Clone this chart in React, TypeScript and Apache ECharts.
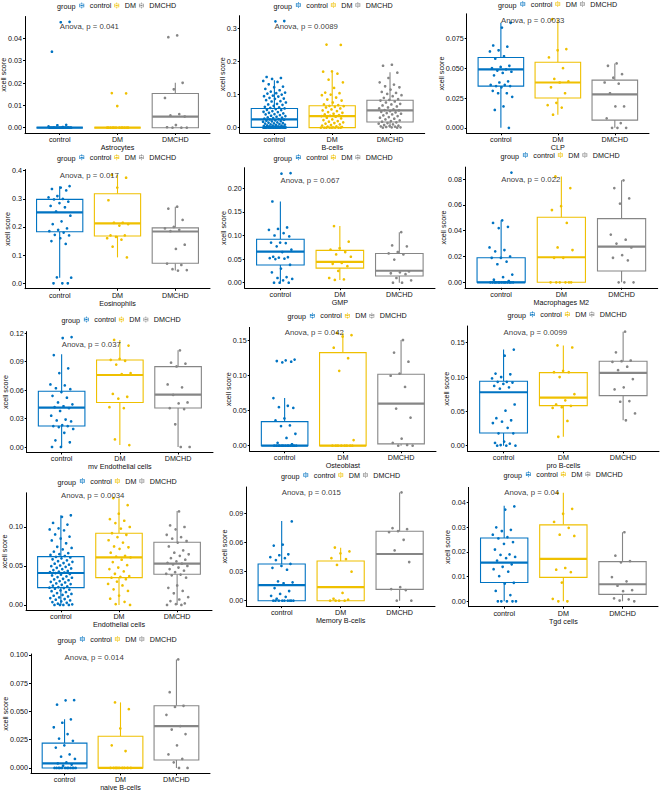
import React, { useEffect, useRef } from "react";
import * as echarts from "echarts";

const FONT = "'Liberation Sans', Arial, Helvetica, sans-serif";

const groups = ["control", "DM", "DMCHD"];
const groupColors = ["#0073C2", "#EFC000", "#868686"];

const cellTypes = [
  "Astrocytes", "B-cells", "CLP", "Eosinophils", "GMP", "Macrophages M2",
  "mv Endothelial cells", "Osteoblast", "pro B-cells", "Endothelial cells",
  "Memory B-cells", "Tgd cells", "naive B-cells",
];
const anovaP = ["0.041", "0.0089", "0.0033", "0.017", "0.067", "0.022", "0.037", "0.042", "0.0099", "0.0034", "0.015", "0.04", "0.014"];
const anovaLabelY = [0.0452, 0.306, 0.09, 0.384, 0.2175, 0.0794, 0.108, 0.162, 0.1645, 0.141, 0.1123, 0.0442, 0.098];

const yTicks = [
  [0, 0.01, 0.02, 0.03, 0.04],
  [0, 0.1, 0.2, 0.3],
  [0, 0.025, 0.05, 0.075],
  [0, 0.1, 0.2, 0.3, 0.4],
  [0, 0.05, 0.1, 0.15, 0.2],
  [0, 0.02, 0.04, 0.06, 0.08],
  [0, 0.03, 0.06, 0.09, 0.12],
  [0, 0.05, 0.1, 0.15],
  [0, 0.05, 0.1, 0.15],
  [0, 0.05, 0.1],
  [0, 0.03, 0.06, 0.09],
  [0, 0.01, 0.02, 0.03, 0.04],
  [0, 0.025, 0.05, 0.075, 0.1],
];

// ---- point values ----
const astroControl = [0.0474, 0.0472, 0.034, 0.0013, 0.0011, 0.0006, 0.0003, 0, 0, 0, 0, 0, 0, 0, 0, 0, 0, 0, 0, 0, 0, 0, 0, 0, 0, 0, 0, 0, 0, 0];
const astroDM = [0.0155, 0.0154, 0.0097, 0, 0, 0, 0, 0, 0, 0, 0, 0, 0, 0, 0];
const astroDMCHD = [0.0413, 0.0405, 0.0201, 0.0172, 0.0133, 0.0061, 0.0055, 0.005, 0.0012, 0.0002, 0, 0, 0];
const astroBox = [[0, 0, 0, 0, 0], [0, 0, 0, 0, 0], [0, 0, 0.005, 0.0153, 0.0201]];

const bcControl = [0.322, 0.321, 0.153, 0.150, 0.147, 0.141, 0.138, 0.131, 0.124, 0.122, 0.117, 0.113, 0.109, 0.106, 0.104, 0.103, 0.1, 0.097, 0.095, 0.094, 0.09, 0.088, 0.087, 0.083, 0.08, 0.079, 0.076, 0.072, 0.07, 0.069, 0.066, 0.063, 0.061, 0.06, 0.058, 0.056, 0.054, 0.053, 0.05, 0.048, 0.047, 0.045, 0.043, 0.041, 0.04, 0.038, 0.036, 0.035, 0.033, 0.031, 0.03, 0.029, 0.027, 0.026, 0.025, 0.024, 0.022, 0.021, 0.02, 0.019, 0.018, 0.016, 0.015, 0.014, 0.013, 0.012, 0.011, 0.01, 0.009, 0.008, 0.007, 0.006, 0.006, 0.005, 0.004, 0.004, 0.003, 0.003, 0.002, 0.002, 0.002, 0.001, 0.001, 0.001, 0.001, 0, 0, 0, 0, 0, 0, 0, 0, 0, 0, 0, 0, 0, 0, 0, 0, 0, 0, 0];
const bcDM = [0.251, 0.25, 0.17, 0.169, 0.163, 0.145, 0.137, 0.12, 0.106, 0.104, 0.1, 0.098, 0.091, 0.085, 0.082, 0.076, 0.07, 0.068, 0.066, 0.065, 0.063, 0.061, 0.058, 0.055, 0.052, 0.05, 0.047, 0.045, 0.042, 0.04, 0.038, 0.036, 0.035, 0.033, 0.03, 0.028, 0.025, 0.023, 0.02, 0.018, 0.016, 0.014, 0.012, 0.01, 0.008, 0.006, 0.004, 0.003, 0.002, 0.001, 0, 0, 0, 0, 0, 0, 0, 0];
const bcDMCHD = [0.19, 0.187, 0.166, 0.15, 0.137, 0.13, 0.125, 0.122, 0.115, 0.108, 0.105, 0.102, 0.098, 0.095, 0.09, 0.086, 0.084, 0.082, 0.079, 0.076, 0.072, 0.07, 0.067, 0.064, 0.061, 0.058, 0.055, 0.053, 0.052, 0.05, 0.048, 0.046, 0.044, 0.042, 0.04, 0.037, 0.035, 0.032, 0.03, 0.027, 0.025, 0.022, 0.02, 0.018, 0.016, 0.014, 0.012, 0.01, 0.008, 0.006, 0.005, 0.004, 0.003, 0.002, 0.001, 0.001, 0, 0];
const bcBox = [[0, 0.001, 0.025, 0.058, 0.143], [0, 0, 0.035, 0.066, 0.17], [0, 0.017, 0.052, 0.083, 0.167]];

const clpControl = [0.088, 0.084, 0.069, 0.068, 0.065, 0.064, 0.06, 0.058, 0.052, 0.051, 0.05, 0.049, 0.048, 0.047, 0.046, 0.044, 0.039, 0.038, 0.036, 0.036, 0.035, 0.035, 0.034, 0.031, 0.029, 0.029, 0.026, 0.018, 0.015, 0];
const clpDM = [0.091, 0.066, 0.065, 0.059, 0.05, 0.041, 0.039, 0.038, 0.034, 0.029, 0.021, 0.019, 0.017, 0.011];
const clpDMCHD = [0.054, 0.052, 0.045, 0.042, 0.038, 0.037, 0.029, 0.018, 0.018, 0.008, 0.004, 0, 0, 0];
const clpBox = [[0, 0.035, 0.049, 0.059, 0.088], [0.011, 0.025, 0.038, 0.055, 0.091], [0, 0.0065, 0.028, 0.04, 0.054]];

const eosControl = [0.345, 0.34, 0.335, 0.33, 0.31, 0.305, 0.3, 0.298, 0.29, 0.285, 0.275, 0.27, 0.255, 0.24, 0.22, 0.21, 0.195, 0.19, 0.185, 0.18, 0.172, 0.17, 0.16, 0.15, 0.14, 0.021, 0.02, 0, 0, 0];
const eosDM = [0.385, 0.375, 0.34, 0.295, 0.215, 0.215, 0.21, 0.205, 0.17, 0.17, 0.165, 0.16, 0.155, 0.13, 0.092];
const eosDMCHD = [0.272, 0.265, 0.225, 0.2, 0.195, 0.19, 0.185, 0.137, 0.122, 0.07, 0.065, 0.05, 0.047, 0.045];
const eosBox = [[0.02, 0.183, 0.252, 0.298, 0.345], [0.092, 0.168, 0.213, 0.318, 0.385], [0.045, 0.071, 0.184, 0.197, 0.272]];

const gmpControl = [0.232, 0.231, 0.172, 0.117, 0.114, 0.112, 0.105, 0.1, 0.098, 0.085, 0.085, 0.084, 0.077, 0.07, 0.065, 0.055, 0.054, 0.053, 0.052, 0.051, 0.05, 0.038, 0.03, 0.022, 0.012, 0.01, 0.008, 0.005, 0, 0, 0];
const gmpDM = [0.12, 0.087, 0.073, 0.07, 0.065, 0.06, 0.055, 0.042, 0.04, 0.035, 0.025, 0.01, 0.007, 0.006];
const gmpDMCHD = [0.107, 0.079, 0.077, 0.065, 0.062, 0.06, 0.049, 0.024, 0.022, 0.02, 0.018, 0.01, 0.005, 0, 0];
const gmpBox = [[0, 0.0375, 0.0657, 0.092, 0.172], [0.006, 0.031, 0.044, 0.0686, 0.12], [0, 0.0142, 0.0254, 0.062, 0.107]];

const m2Control = [0.085, 0.048, 0.046, 0.043, 0.042, 0.027, 0.025, 0.024, 0.02, 0.019, 0.019, 0.016, 0.014, 0.006, 0.004, 0.002, 0.001, 0, 0, 0, 0, 0, 0, 0, 0, 0, 0, 0, 0, 0];
const m2DM = [0.082, 0.073, 0.059, 0.056, 0.046, 0.027, 0.025, 0.019, 0.019, 0, 0, 0, 0, 0, 0];
const m2DMCHD = [0.079, 0.073, 0.065, 0.061, 0.037, 0.033, 0.03, 0.027, 0.021, 0.019, 0.017, 0, 0, 0];
const m2Box = [[0, 0, 0, 0.019, 0.048], [0, 0, 0.0194, 0.0504, 0.082], [0, 0.0088, 0.0276, 0.0493, 0.079]];

const mvControl = [0.116, 0.115, 0.097, 0.083, 0.078, 0.066, 0.065, 0.062, 0.061, 0.058, 0.054, 0.052, 0.047, 0.045, 0.043, 0.042, 0.041, 0.038, 0.033, 0.029, 0.028, 0.027, 0.023, 0.022, 0.022, 0.021, 0.019, 0.015, 0.007, 0.005, 0, 0];
const mvDM = [0.113, 0.107, 0.093, 0.092, 0.091, 0.087, 0.078, 0.077, 0.056, 0.053, 0.051, 0.042, 0.041, 0.008, 0.002];
const mvDMCHD = [0.102, 0.089, 0.088, 0.085, 0.066, 0.063, 0.055, 0.047, 0.046, 0.041, 0.04, 0.024, 0, 0];
const mvBox = [[0, 0.0222, 0.0415, 0.0588, 0.098], [0.002, 0.047, 0.076, 0.0919, 0.113], [0, 0.0412, 0.0552, 0.0848, 0.102]];

const ostControl = [0.123, 0.122, 0.121, 0.12, 0.119, 0.068, 0.057, 0.055, 0.054, 0.039, 0.036, 0.029, 0.028, 0.017, 0.011, 0.004, 0.002, 0, 0, 0, 0, 0, 0, 0, 0, 0, 0, 0, 0, 0];
const ostDM = [0.161, 0.158, 0.156, 0.14, 0.125, 0.107, 0.008, 0, 0, 0, 0, 0, 0, 0, 0];
const ostDMCHD = [0.151, 0.133, 0.12, 0.103, 0.1, 0.084, 0.053, 0.04, 0.01, 0.004, 0.001, 0, 0];
const ostBox = [[0, 0, 0, 0.0344, 0.068], [0, 0, 0, 0.133, 0.161], [0, 0.0025, 0.06, 0.102, 0.151]];

const proControl = [0.14, 0.131, 0.105, 0.104, 0.1, 0.098, 0.093, 0.093, 0.092, 0.09, 0.087, 0.085, 0.083, 0.06, 0.051, 0.04, 0.037, 0.035, 0.033, 0.026, 0.018, 0.018, 0.006, 0.004, 0.003, 0.001, 0, 0, 0];
const proDM = [0.146, 0.143, 0.109, 0.107, 0.107, 0.1, 0.075, 0.066, 0.06, 0.058, 0.056, 0.055, 0.036, 0.013];
const proDMCHD = [0.166, 0.136, 0.124, 0.123, 0.122, 0.115, 0.11, 0.097, 0.085, 0.082, 0.065, 0.064, 0.047, 0.037];
const proBox = [[0, 0.0185, 0.0778, 0.0939, 0.14], [0.013, 0.0583, 0.07, 0.1064, 0.146], [0.037, 0.0729, 0.106, 0.123, 0.166]];

const endoControl = [0.115, 0.113, 0.1052, 0.1031, 0.0983, 0.0968, 0.0957, 0.0904, 0.0876, 0.0852, 0.0827, 0.0791, 0.0746, 0.0731, 0.0712, 0.0683, 0.0664, 0.0651, 0.0642, 0.0628, 0.0617, 0.0609, 0.0598, 0.0586, 0.0572, 0.0561, 0.0553, 0.0538, 0.0529, 0.0517, 0.0506, 0.0498, 0.0489, 0.0477, 0.0468, 0.0459, 0.0447, 0.0436, 0.0428, 0.0421, 0.0416, 0.0408, 0.0397, 0.0389, 0.0378, 0.0366, 0.0357, 0.0349, 0.0336, 0.0328, 0.0317, 0.0306, 0.0297, 0.0288, 0.0276, 0.0268, 0.0259, 0.0247, 0.0238, 0.0229, 0.0221, 0.0217, 0.0208, 0.0196, 0.0187, 0.0176, 0.0164, 0.0152, 0.0141, 0.0129, 0.0118, 0.0109, 0.0097, 0.0088, 0.0076, 0.0067, 0.0058, 0.0046, 0.0037, 0.0028, 0.0016, 0.0008, 0, 0, 0, 0];
const endoDM = [0.137, 0.128, 0.117, 0.11, 0.108, 0.105, 0.1, 0.098, 0.092, 0.09, 0.087, 0.083, 0.08, 0.075, 0.074, 0.072, 0.067, 0.063, 0.062, 0.061, 0.058, 0.055, 0.051, 0.048, 0.046, 0.043, 0.04, 0.037, 0.036, 0.035, 0.033, 0.03, 0.027, 0.025, 0.02, 0.018, 0.012, 0.008, 0.004, 0.001, 0];
const endoDMCHD = [0.12, 0.102, 0.1, 0.097, 0.09, 0.087, 0.085, 0.082, 0.08, 0.075, 0.07, 0.067, 0.065, 0.063, 0.06, 0.058, 0.056, 0.054, 0.053, 0.052, 0.05, 0.048, 0.046, 0.044, 0.042, 0.04, 0.039, 0.038, 0.035, 0.025, 0.022, 0.018, 0.015, 0.01, 0.007, 0.005, 0.002, 0.001, 0, 0];
const endoBox = [[0, 0.0222, 0.041, 0.062, 0.115], [0, 0.035, 0.0611, 0.0919, 0.137], [0, 0.0393, 0.053, 0.0804, 0.1205]];

const memControl = [0.082, 0.058, 0.057, 0.048, 0.047, 0.045, 0.044, 0.042, 0.038, 0.036, 0.034, 0.032, 0.02, 0.019, 0.018, 0.013, 0.01, 0.007, 0.005, 0.004, 0.002, 0, 0, 0, 0, 0, 0, 0, 0, 0];
const memDM = [0.055, 0.051, 0.049, 0.044, 0.043, 0.037, 0.03, 0.008, 0.002, 0.001, 0, 0, 0, 0];
const memDMCHD = [0.112, 0.075, 0.074, 0.072, 0.071, 0.063, 0.052, 0.04, 0.014, 0.012, 0.011, 0, 0];
const memBox = [[0, 0, 0.0162, 0.038, 0.0824], [0, 0, 0.0141, 0.041, 0.0548], [0, 0.0117, 0.0483, 0.0718, 0.112]];

const tgdControl = [0.0385, 0.0372, 0.03, 0.029, 0.0285, 0.027, 0.026, 0.0255, 0.024, 0.0233, 0.021, 0.019, 0.0188, 0.018, 0.0175, 0.0165, 0.015, 0.014, 0.013, 0.012, 0.0102, 0.0075, 0.0072, 0.0042, 0.0025, 0, 0, 0, 0, 0];
const tgdDM = [0.044, 0.0375, 0.0355, 0.0322, 0.0298, 0.027, 0.0265, 0.0135, 0.0128, 0.0118, 0.0076, 0.001, 0, 0];
const tgdDMCHD = [0.028, 0.0185, 0.0163, 0.0158, 0.0098, 0.0081, 0.0063, 0.0045, 0.0041, 0.0012, 0.0008, 0.0003, 0];
const tgdBox = [[0, 0.0076, 0.0157, 0.0257, 0.0388], [0, 0.0097, 0.0172, 0.031, 0.044], [0, 0.0028, 0.0069, 0.0161, 0.028]];

const naiveControl = [0.06, 0.0598, 0.056, 0.043, 0.04, 0.036, 0.03, 0.026, 0.024, 0.02, 0.018, 0.012, 0.01, 0.008, 0.005, 0.004, 0.003, 0.002, 0, 0, 0, 0, 0, 0, 0, 0, 0, 0, 0, 0];
const naiveDM = [0.058, 0.052, 0.035, 0.02, 0.015, 0, 0, 0, 0, 0, 0, 0, 0, 0];
const naiveDMCHD = [0.096, 0.067, 0.055, 0.054, 0.047, 0.037, 0.034, 0.03, 0.02, 0.012, 0.008, 0.005, 0, 0];
const naiveBox = [[0, 0, 0.004, 0.022, 0.043], [0, 0, 0, 0.028, 0.058], [0, 0.007, 0.037, 0.055, 0.096]];

const panelPoints = [
  [astroControl, astroDM, astroDMCHD],
  [bcControl, bcDM, bcDMCHD],
  [clpControl, clpDM, clpDMCHD],
  [eosControl, eosDM, eosDMCHD],
  [gmpControl, gmpDM, gmpDMCHD],
  [m2Control, m2DM, m2DMCHD],
  [mvControl, mvDM, mvDMCHD],
  [ostControl, ostDM, ostDMCHD],
  [proControl, proDM, proDMCHD],
  [endoControl, endoDM, endoDMCHD],
  [memControl, memDM, memDMCHD],
  [tgdControl, tgdDM, tgdDMCHD],
  [naiveControl, naiveDM, naiveDMCHD],
];
const panelBoxes = [astroBox, bcBox, clpBox, eosBox, gmpBox, m2Box, mvBox, ostBox, proBox, endoBox, memBox, tgdBox, naiveBox];

// ---- layout (pixels) ----
const layout = [
  { x0: 25, x1: 210, top: 16.5, bottom: 133, lx: 117.5, ly: 6.5 },
  { x0: 239.7, x1: 424.7, top: 15.7, bottom: 133, lx: 334, ly: 6 },
  { x0: 466.7, x1: 649, top: 13.8, bottom: 133.3, lx: 558.5, ly: 5 },
  { x0: 25, x1: 210, top: 169.5, bottom: 288.7, lx: 117.5, ly: 158.3 },
  { x0: 244.7, x1: 435, top: 167.7, bottom: 288.2, lx: 334, ly: 158.3 },
  { x0: 465, x1: 657.7, top: 167.1, bottom: 287.8, lx: 561, ly: 156 },
  { x0: 26.7, x1: 213, top: 331.6, bottom: 452.5, lx: 122, ly: 320.5 },
  { x0: 249.7, x1: 436, top: 327.4, bottom: 451.3, lx: 348, ly: 316.7 },
  { x0: 467.7, x1: 659, top: 326, bottom: 451.4, lx: 568, ly: 315.3 },
  { x0: 26, x1: 212, top: 492.8, bottom: 610.3, lx: 118, ly: 482 },
  { x0: 246.3, x1: 435, top: 487, bottom: 606.1, lx: 341.5, ly: 476 },
  { x0: 468.7, x1: 658, top: 487.4, bottom: 606.7, lx: 564, ly: 475.3 },
  { x0: 31, x1: 210, top: 654, bottom: 773.4, lx: 118, ly: 640 },
];

const keyIcon =
  "path://M4.5,0H5.5V2H4.5Z M4.5,8H5.5V10H4.5Z M1,2H9V3H1Z M1,7H9V8H1Z M1,2H2V8H1Z M8,2H9V8H8Z M1,4.5H9V5.5H1Z M4,4H6V6H4Z";

function decimalsOf(arr: number[]) {
  return Math.max(
    ...arr.map((v) => {
      const s = String(v);
      const i = s.indexOf(".");
      return i < 0 ? 0 : s.length - i - 1;
    })
  );
}
function textWidth(s: string, size: number) {
  const w: Record<string, number> = { ".": 0.278, "-": 0.333, D: 0.722, M: 0.833, C: 0.722, H: 0.722, c: 0.5, o: 0.556, n: 0.556, t: 0.278, r: 0.333, l: 0.222, g: 0.556, u: 0.556, p: 0.556 };
  let t = 0;
  for (const ch of s) t += w[ch] ?? 0.556;
  return t * size;
}
function jitter(i: number) {
  const f = ((i + 1) * 0.6180339887 + 0.31) % 1;
  return f * 0.4 - 0.2;
}

function buildOption() {
  const grid: any[] = [];
  const xAxis: any[] = [];
  const yAxis: any[] = [];
  const series: any[] = [];
  const legend: any[] = [];
  const graphic: any[] = [];
  const fs = 7.2;

  const legendTextW = groups.reduce((s, g) => s + textWidth(g, fs), 0);
  const itemGap = 3;
  const legendW = 3 * (6 + 5) + legendTextW + 2 * itemGap;
  const groupW = textWidth("group", fs);

  panelPoints.forEach((pts, i) => {
    const L = layout[i];
    const all = pts.flat().concat(panelBoxes[i].flat());
    const dmax = Math.max(...all);
    const dmin = Math.min(...all);
    const ext = (dmax - dmin) * 0.05;
    const ymin = dmin - ext;
    const ymax = dmax + ext;

    grid.push({ left: L.x0, top: L.top, width: L.x1 - L.x0, height: L.bottom - L.top, outerBoundsMode: "none", containLabel: false });

    const dec = decimalsOf(yTicks[i]);
    const labelW = Math.max(...yTicks[i].map((v) => textWidth(v.toFixed(dec), fs)));

    xAxis.push({
      type: "value", gridIndex: i, min: 0.4, max: 3.6,
      axisLine: { show: true, onZero: false, lineStyle: { color: "#000", width: 1 } },
      axisTick: { show: true, length: 2, lineStyle: { color: "#000", width: 1 }, customValues: [1, 2, 3] },
      axisLabel: { show: true, customValues: [1, 2, 3], formatter: (v: number) => groups[Math.round(v) - 1], fontSize: fs, lineHeight: 7.6, color: "#111", margin: 2.5, fontFamily: FONT },
      splitLine: { show: false },
      name: cellTypes[i], nameLocation: "middle", nameGap: 10.6, nameMoveOverlap: false,
      nameTextStyle: { fontSize: fs, lineHeight: 7.6, color: "#111", fontFamily: FONT },
    });
    yAxis.push({
      type: "value", gridIndex: i, min: ymin, max: ymax,
      axisLine: { show: true, onZero: false, lineStyle: { color: "#000", width: 1 } },
      axisTick: { show: true, length: 2, lineStyle: { color: "#000", width: 1 }, customValues: yTicks[i] },
      axisLabel: { show: true, customValues: yTicks[i], formatter: (v: number) => v.toFixed(dec), fontSize: fs, color: "#111", margin: 3, fontFamily: FONT },
      splitLine: { show: false },
      name: "xcell score", nameLocation: "middle", nameRotate: 90, nameGap: 3 + labelW + 1, nameMoveOverlap: false,
      nameTextStyle: { fontSize: fs, color: "#111", fontFamily: FONT },
    });

    // boxes
    series.push({
      type: "custom", xAxisIndex: i, yAxisIndex: i, name: "box" + i, silent: true, clip: false,
      encode: { x: 0, y: [1, 2, 3, 4, 5] },
      data: panelBoxes[i].map((b, k) => [k + 1, ...b]),
      renderItem: (params: any, api: any) => {
        const xv = api.value(0);
        const c = groupColors[params.dataIndex];
        const pHi = api.coord([xv, api.value(5)]);
        const px = pHi[0];
        const yHi = pHi[1];
        const yQ3 = api.coord([xv, api.value(4)])[1];
        const yMed = api.coord([xv, api.value(3)])[1];
        const yQ1 = api.coord([xv, api.value(2)])[1];
        const yLo = api.coord([xv, api.value(1)])[1];
        const w = api.size([0.8, 0])[0];
        const lw = 1.1;
        return {
          type: "group",
          children: [
            { type: "line", shape: { x1: px, y1: yHi, x2: px, y2: yQ3 }, style: { stroke: c, lineWidth: lw } },
            { type: "line", shape: { x1: px, y1: yQ1, x2: px, y2: yLo }, style: { stroke: c, lineWidth: lw } },
            { type: "rect", shape: { x: px - w / 2, y: yQ3, width: w, height: Math.max(yQ1 - yQ3, 0) }, style: { fill: "#fff", stroke: c, lineWidth: lw } },
            { type: "line", shape: { x1: px - w / 2, y1: yMed, x2: px + w / 2, y2: yMed }, style: { stroke: c, lineWidth: 2.2 } },
          ],
        };
      },
      z: 2,
    });

    // jittered points
    pts.forEach((vals, g) => {
      series.push({
        type: "scatter", name: groups[g], xAxisIndex: i, yAxisIndex: i, silent: true,
        symbol: "circle", symbolSize: 2.7,
        itemStyle: { color: groupColors[g], opacity: 1 },
        data: vals.map((v, k) => [g + 1 + jitter(k + g * 7), v]),
        z: 3,
      });
    });

    // Anova label
    series.push({
      type: "scatter", name: "anova" + i, xAxisIndex: i, yAxisIndex: i, silent: true,
      symbol: "circle", symbolSize: 0.1, itemStyle: { color: "rgba(0,0,0,0)" },
      data: [[1, anovaLabelY[i]]],
      label: { show: true, position: "right", distance: 0, formatter: "Anova, p = " + anovaP[i], fontSize: 7.8, color: "#000", fontFamily: FONT },
      z: 4,
    });

    // legend
    const total = groupW + 4 + legendW;
    const startX = L.lx - total / 2;
    graphic.push({
      type: "text", x: startX, y: L.ly, silent: true,
      style: { text: "group", fontSize: fs, fontFamily: FONT, fill: "#111", align: "left", verticalAlign: "middle" },
    });
    legend.push({
      show: true, data: groups, left: startX + groupW + 4, top: L.ly - 4.5, orient: "horizontal",
      itemWidth: 6, itemHeight: 6, itemGap, icon: keyIcon, padding: 0, selectedMode: false,
      textStyle: { fontSize: fs, color: "#111", fontFamily: FONT },
    });
  });

  return {
    animation: false,
    backgroundColor: "#fff",
    textStyle: { fontFamily: FONT },
    tooltip: { show: false },
    grid, xAxis, yAxis, series, legend, graphic,
  };
}

export default function App() {
  const ref = useRef<HTMLDivElement>(null);
  useEffect(() => {
    document.body.style.margin = "0";
    if (!ref.current) return;
    const chart = echarts.init(ref.current, undefined, { renderer: "svg", width: 669, height: 791 });
    chart.setOption(buildOption() as any);
    return () => chart.dispose();
  }, []);
  return <div ref={ref} style={{ width: 669, height: 791, position: "absolute", left: 0, top: 0 }} />;
}
